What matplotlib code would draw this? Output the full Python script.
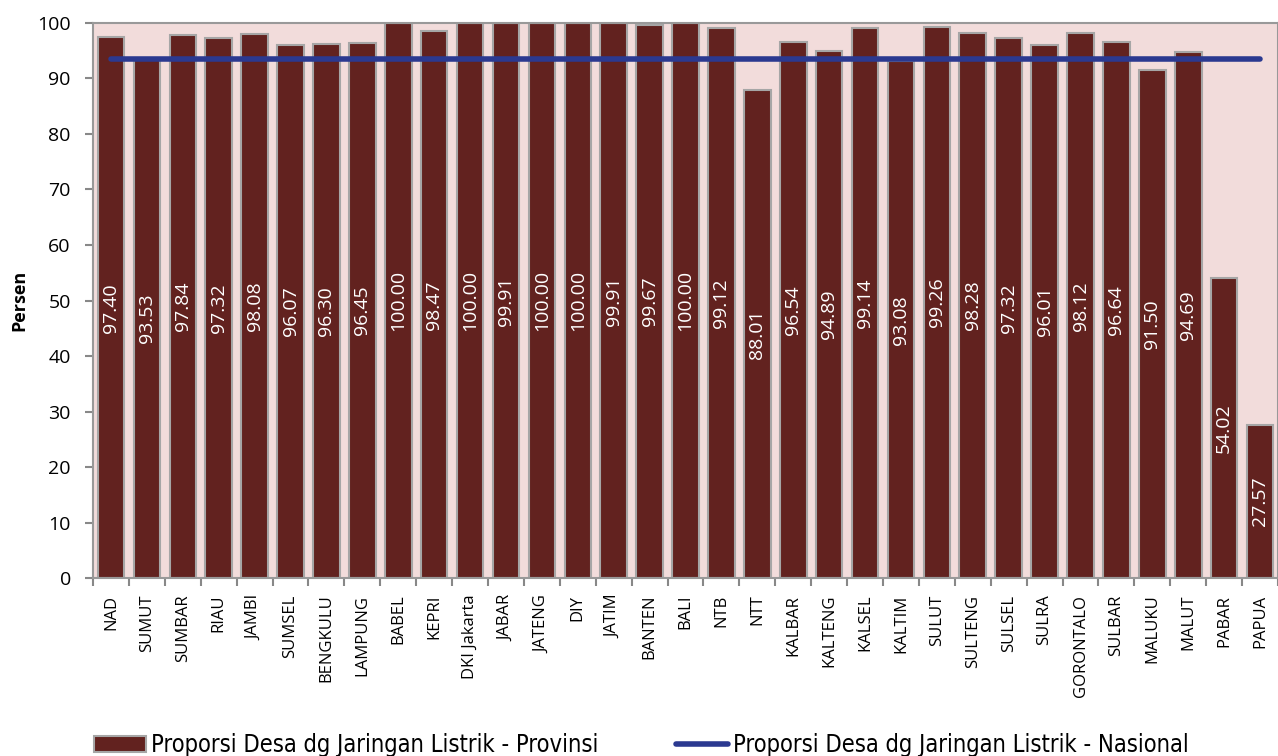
import matplotlib
matplotlib.use("Agg")
import matplotlib.pyplot as plt
import numpy as np

provinces = ["NAD", "SUMUT", "SUMBAR", "RIAU", "JAMBI", "SUMSEL", "BENGKULU", "LAMPUNG",
             "BABEL", "KEPRI", "DKI Jakarta", "JABAR", "JATENG", "DIY", "JATIM", "BANTEN",
             "BALI", "NTB", "NTT", "KALBAR", "KALTENG", "KALSEL", "KALTIM", "SULUT",
             "SULTENG", "SULSEL", "SULRA", "GORONTALO", "SULBAR", "MALUKU", "MALUT",
             "PABAR", "PAPUA"]
provinsi = [97.40, 93.53, 97.84, 97.32, 98.08, 96.07, 96.30, 96.45, 100.00, 98.47,
            100.00, 99.91, 100.00, 100.00, 99.91, 99.67, 100.00, 99.12, 88.01, 96.54,
            94.89, 99.14, 93.08, 99.26, 98.28, 97.32, 96.01, 98.12, 96.64, 91.50,
            94.69, 54.02, 27.57]
nasional_value = 93.5
nasional = [nasional_value] * len(provinces)
yticks = list(range(0, 101, 10))

bar_color = "#62221F"
edge_color = "#A6A6A6"
bg_color = "#F2DCDB"
line_color = "#2B3990"

fig = plt.figure(figsize=(12.78, 7.56), dpi=100)
ax = fig.add_axes([0.0728, 0.2354, 0.9272, 0.7342])
ax.set_facecolor(bg_color)

x = np.arange(len(provinces))
bars = ax.bar(x, provinsi, width=0.74, color=bar_color, edgecolor=edge_color,
              linewidth=1.5, label="Proporsi Desa dg Jaringan Listrik - Provinsi", zorder=2)
line, = ax.plot(x, nasional, color=line_color, linewidth=4, solid_capstyle="round",
                label="Proporsi Desa dg Jaringan Listrik - Nasional", zorder=3)

for xi, v in zip(x, provinsi):
    ax.text(xi, v / 2, f"{v:.2f}", rotation=90, ha="center", va="center",
            color="white", fontsize=14, family="Open Sans", zorder=4)

ax.set_xlim(-0.5, len(provinces) - 0.5)
ax.set_ylim(0, 100)
ax.set_yticks(yticks)
ax.set_yticklabels([str(t) for t in yticks], fontsize=14, family="Open Sans")
ax.set_xticks(np.arange(len(provinces) + 1) - 0.5, minor=False)
ax.set_xticklabels([])
ax.set_xticks(x, minor=True)
ax.set_xticklabels(provinces, minor=True, rotation=90, fontsize=12, family="Open Sans")
ax.tick_params(axis="x", which="minor", length=0, pad=12)
ax.tick_params(axis="x", which="major", length=6, color="#888888", width=1.5)
ax.tick_params(axis="y", length=6, color="#888888", width=1.5, pad=10)

for s in ["left", "bottom", "top", "right"]:
    ax.spines[s].set_color("#999999")
    ax.spines[s].set_linewidth(1.5)

ax.set_ylabel("Persen", fontsize=13, fontweight="bold", family="Open Sans", labelpad=6)

fig.legend([bars, line], [bars.get_label(), line.get_label()], loc="center",
           bbox_to_anchor=(0.502, 0.014), ncol=2, frameon=False,
           prop={"family": "DejaVu Sans", "size": 17, "stretch": "condensed"},
           columnspacing=3.3, handlelength=2.2, handletextpad=0.2)

fig.savefig("out.png", dpi=100)
